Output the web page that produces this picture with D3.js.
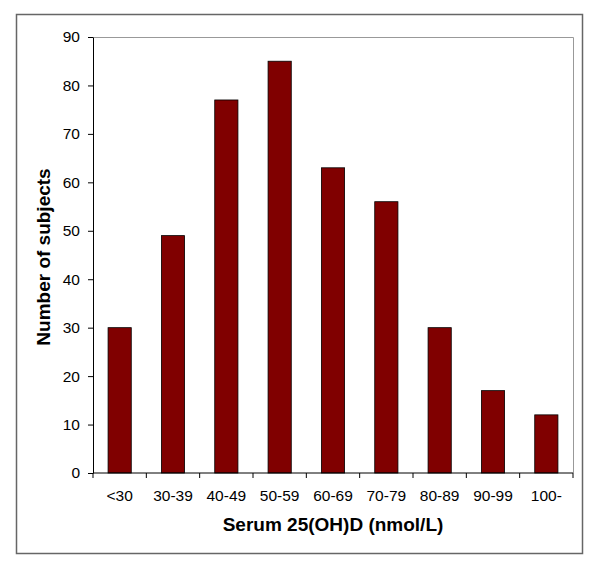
<!DOCTYPE html>
<html>
<head>
<meta charset="utf-8">
<script src="https://cdn.jsdelivr.net/npm/d3@7"></script>
<style>
  body { margin: 0; background: #fff; }
  text { font-family: "Liberation Sans", Arial, sans-serif; }
</style>
</head>
<body>
<div id="chart"></div>
<script>
const categories = ["<30", "30-39", "40-49", "50-59", "60-69", "70-79", "80-89", "90-99", "100-"];
const subjects = [30, 49, 77, 85, 63, 56, 30, 17, 12];
const yTicks = [0, 10, 20, 30, 40, 50, 60, 70, 80, 90];

const width = 600, height = 568;
const margin = { left: 93, right: 27, top: 37, bottom: 95 };

const svg = d3.select("#chart").append("svg")
  .attr("width", width)
  .attr("height", height);

// outer frame
svg.append("rect")
  .attr("x", 16.5).attr("y", 14.5)
  .attr("width", 566).attr("height", 539)
  .attr("fill", "none")
  .attr("stroke", "#666")
  .attr("stroke-width", 1.5);

const x = d3.scaleBand()
  .domain(categories)
  .range([margin.left, width - margin.right])
  .paddingInner(0.565)
  .paddingOuter(0.2825);

const y = d3.scaleLinear()
  .domain([0, 90])
  .range([height - margin.bottom, margin.top]);

// plot area border (top and right)
svg.append("path")
  .attr("d", `M${margin.left},${margin.top + 0.5}H${width - margin.right + 0.5}V${height - margin.bottom}`)
  .attr("fill", "none")
  .attr("stroke", "#999")
  .attr("stroke-width", 1);

// bars
svg.append("g")
  .selectAll("rect")
  .data(subjects)
  .join("rect")
  .attr("x", (d, i) => x(categories[i]))
  .attr("y", d => y(d))
  .attr("width", x.bandwidth())
  .attr("height", d => y(0) - y(d))
  .attr("fill", "#800000")
  .attr("stroke", "#000")
  .attr("stroke-width", 0.8);

// y axis
const yAxis = svg.append("g")
  .attr("transform", `translate(${margin.left},0)`)
  .call(d3.axisLeft(y).tickValues(yTicks).tickSize(5).tickSizeOuter(0).tickPadding(8));
yAxis.select(".domain").attr("stroke", "#000");
yAxis.selectAll("text").attr("font-size", 15.5).attr("fill", "#000")
  .attr("font-family", "'Liberation Sans', Arial, sans-serif");

// x axis with ticks between categories
const step = x.step();
const xAxis = svg.append("g")
  .attr("transform", `translate(0,${y(0)})`);
xAxis.append("line")
  .attr("x1", margin.left).attr("x2", width - margin.right)
  .attr("stroke", "#000");
xAxis.selectAll("line.tick")
  .data(d3.range(categories.length + 1))
  .join("line")
  .attr("class", "tick")
  .attr("x1", i => margin.left + i * step)
  .attr("x2", i => margin.left + i * step)
  .attr("y1", 0).attr("y2", 5)
  .attr("stroke", "#000");
xAxis.selectAll("text")
  .data(categories)
  .join("text")
  .attr("x", d => x(d) + x.bandwidth() / 2)
  .attr("y", 28)
  .attr("text-anchor", "middle")
  .attr("font-size", 15.5)
  .text(d => d);

// axis titles
svg.append("text")
  .attr("x", (margin.left + width - margin.right) / 2)
  .attr("y", 531)
  .attr("text-anchor", "middle")
  .attr("font-size", 19)
  .attr("font-weight", "bold")
  .text("Serum 25(OH)D (nmol/L)");

svg.append("text")
  .attr("transform", `translate(50,257) rotate(-90)`)
  .attr("text-anchor", "middle")
  .attr("font-size", 19)
  .attr("font-weight", "bold")
  .text("Number of subjects");
</script>
</body>
</html>
